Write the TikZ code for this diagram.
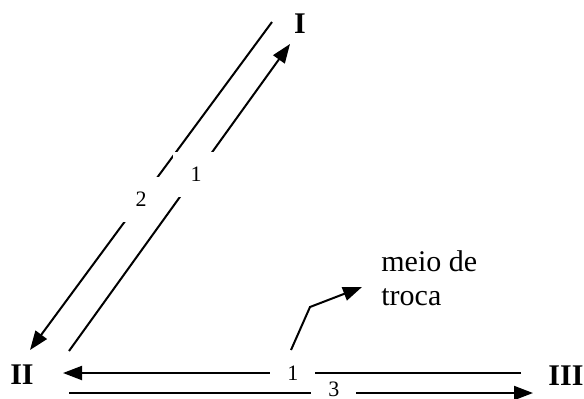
\documentclass[tikz,border=0pt]{standalone}
\usepackage{fontspec}
\setmainfont{Liberation Serif}
\usetikzlibrary{arrows.meta}
\tikzset{
  place/.style={font=\fontsize{15}{17}\selectfont\bfseries,inner sep=0pt},
  note/.style={font=\fontsize{15}{17}\selectfont,align=left,inner sep=0pt},
  gapbox/.style={fill=white,inner sep=0pt,font=\fontsize{11}{12}\selectfont},
  diaggap/.style={gapbox,minimum width=23pt,minimum height=22.5pt},
  flatgap/.style={gapbox,minimum width=22.5pt,minimum height=8pt},
  arrow/.style={-{Triangle[length=9.5pt,width=7pt]},line width=1pt,draw=black}
}

\begin{document}
\begin{tikzpicture}[x=0.5pt,y=-0.5pt]
\useasboundingbox (0,0) rectangle (584,398);
\node[place] (nI) at (300,24) {I};
\node[place] (nII) at (22,375) {II};
\node[place] (nIII) at (566,376) {III};
\node[note,anchor=west] (troca) at (381,278) {meio de\\troca};
% ends of the connectors
\coordinate (dn-a) at (272,22);  \coordinate (dn-b) at (30,350);
\coordinate (up-a) at (69,351);  \coordinate (up-b) at (290,44);
\coordinate (lf-a) at (521,373); \coordinate (lf-b) at (63,373);
\coordinate (rt-a) at (69,393);  \coordinate (rt-b) at (533,393);
\draw[arrow] (dn-a) -- node[diaggap,pos=0.541] (g2) {2} (dn-b);
\draw[arrow] (up-a) -- node[diaggap,pos=0.575] (g1) {1} (up-b);
\draw[arrow] (lf-a) -- node[flatgap,pos=0.498] (g3) {1} (lf-b);
\draw[arrow] (rt-a) -- node[flatgap,pos=0.571,yshift=2pt] (g4) {3} (rt-b);
% pointer to the note
\coordinate (call-a) at (291,350); \coordinate (call-b) at (310,307);
\coordinate (call-c) at (362,287);
\draw[arrow] (call-a) -- (call-b) -- (call-c);
\end{tikzpicture}
\end{document}
